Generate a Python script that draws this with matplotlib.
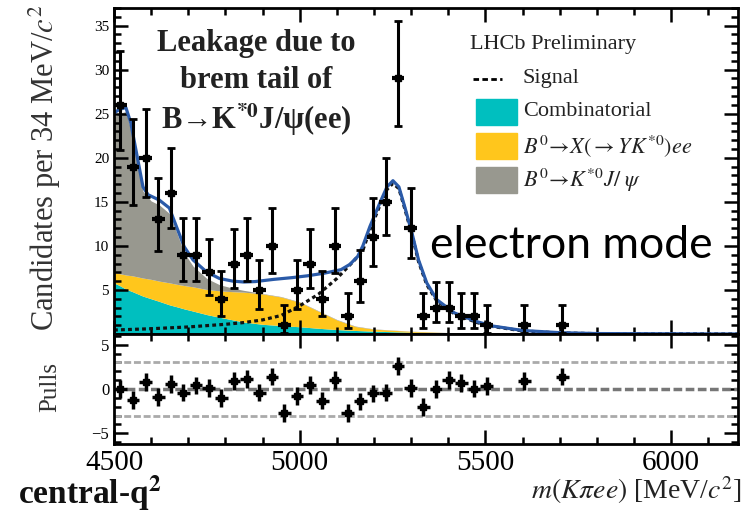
import matplotlib
matplotlib.use("Agg")
import matplotlib.pyplot as plt
from matplotlib.patches import Rectangle
from matplotlib.lines import Line2D
from matplotlib.ticker import MultipleLocator
import numpy as np

plt.rcParams['font.family'] = ['Liberation Serif', 'DejaVu Serif']
plt.rcParams['mathtext.fontset'] = 'stix'

# binned data (34 MeV bins), bin centres in MeV
bin_centres = [4517, 4551, 4585, 4619, 4653, 4687, 4721, 4755, 4789, 4823,
               4857, 4891, 4925, 4959, 4993, 5027, 5061, 5095, 5129, 5163,
               5197, 5231, 5265, 5299, 5333, 5367, 5401, 5435, 5469, 5503,
               5605, 5707]
counts = [26, 19, 20, 13, 16, 9, 9, 7, 4, 8,
          9, 5, 10, 1, 5, 8, 4, 10, 2, 6,
          11, 15, 29, 12, 2, 3, 3, 2, 2, 1,
          1, 1]
err_lo = [5.07, 4.33, 4.44, 3.55, 3.95, 2.94, 2.94, 2.58, 1.91, 2.77,
          2.94, 2.16, 3.11, 0.83, 2.16, 2.77, 1.91, 3.11, 1.29, 2.38,
          3.26, 3.82, 5.36, 3.41, 1.29, 1.63, 1.63, 1.29, 1.29, 0.83,
          0.83, 0.83]
err_hi = [6.17, 5.44, 5.55, 4.70, 5.08, 4.11, 4.11, 3.77, 3.16, 3.95,
          4.11, 3.38, 4.26, 2.30, 3.38, 3.95, 3.16, 4.26, 2.64, 3.58,
          4.42, 4.95, 6.47, 4.56, 2.64, 2.92, 2.92, 2.64, 2.64, 2.30,
          2.30, 2.30]
pulls = [0.0, -1.2, 0.8, -0.9, 0.55, -0.4, 0.4, 0.1, -1.0, 0.9,
         1.1, -0.4, 1.4, -2.7, -0.8, 0.45, -1.3, 1.0, -2.7, -1.4,
         -0.5, -0.4, 2.6, 0.15, -2.0, 0.0, 1.0, 0.7, 0.05, 0.3,
         0.9, 1.4]

# fit components
m_bkg = [4500, 4515, 4532, 4550, 4578, 4600, 4622, 4650, 4668, 4689, 4713,
         4750, 4784, 4820, 4850, 4900, 4950, 5000, 5050, 5100, 5150, 5200,
         5300, 5400, 5600, 6180]
comb = [5.8, 5.5, 5.1, 4.8, 4.3, 4.0, 3.7, 3.3, 3.1, 2.85, 2.6,
        2.2, 1.9, 1.6, 1.35, 1.1, 0.95, 0.82, 0.65, 0.5, 0.4, 0.32,
        0.2, 0.12, 0.05, 0.0]
partreco_top = [7.0, 6.85, 6.7, 6.6, 6.35, 6.2, 6.0, 5.8, 5.65, 5.5, 5.35,
                5.05, 4.9, 4.8, 4.75, 4.55, 4.2, 3.6, 2.6, 1.6, 0.85, 0.55,
                0.3, 0.15, 0.05, 0.0]
jpsi_top = [24.65, 25.05, 25.25, 22.4, 16.2, 15.1, 14.65, 13.65, 11.6, 9.2, 7.7,
            6.3, 5.6, 5.2, 4.95, 4.6, 4.25, 3.65, 2.65, 1.65, 0.9, 0.58,
            0.32, 0.17, 0.06, 0.0]

m_sig = [4500, 4600, 4700, 4800, 4850, 4900, 4950, 5000, 5050, 5100, 5150,
         5170, 5189, 5216, 5235, 5251, 5267, 5283, 5302, 5320, 5342, 5369,
         5416, 5477, 5520, 5600, 5700, 5800, 6180]
signal = [0.45, 0.6, 0.8, 1.1, 1.3, 1.6, 2.1, 3.2, 4.5, 6.3, 8.5,
          9.5, 11.8, 14.6, 16.4, 17.1, 16.5, 14.2, 11.3, 8.2, 5.6, 3.75,
          2.3, 1.3, 0.85, 0.35, 0.12, 0.04, 0.0]

m_tot = [4500, 4515, 4532, 4545, 4559, 4578, 4592, 4622, 4649, 4668, 4689,
         4713, 4749, 4784, 4820, 4850, 4880, 4930, 4980, 5020, 5066, 5111,
         5135, 5156, 5170, 5189, 5216, 5235, 5251, 5267, 5283, 5302, 5320,
         5342, 5369, 5416, 5477, 5520, 5600, 5700, 5800, 6180]
total = [25.1, 25.5, 25.7, 24.0, 20.9, 16.7, 15.8, 15.2, 14.3, 12.2, 9.9,
         8.4, 7.05, 6.3, 6.0, 5.9, 5.95, 6.2, 6.4, 6.6, 6.9, 7.3,
         7.9, 8.8, 10.0, 12.2, 14.9, 16.7, 17.4, 16.7, 14.4, 11.5, 8.4,
         5.8, 3.9, 2.4, 1.4, 0.9, 0.4, 0.15, 0.05, 0.0]

half_bin = 17
W, H = 753, 515

def fx(px):
    return px / W

def fy(py):
    return 1 - py / H

fig = plt.figure(figsize=(7.53, 5.15), dpi=100)
ax = fig.add_axes([fx(114), fy(334), fx(738) - fx(114), fy(8) - fy(334)])
axp = fig.add_axes([fx(114), fy(444), fx(738) - fx(114), fy(334) - fy(444)], sharex=ax)

cyan = '#00bfbf'
yellow = '#ffc61c'
grey = '#98988f'

ax.fill_between(m_bkg, 0, comb, color=cyan, lw=0)
ax.fill_between(m_bkg, comb, partreco_top, color=yellow, lw=0)
ax.fill_between(m_bkg, partreco_top, jpsi_top, color=grey, lw=0)
ax.plot(m_sig, signal, color='#111111', lw=2.3, ls=(0, (1.2, 1.0)))
ax.plot(m_tot, total, color='#2a5aa8', lw=2.3)

ax.errorbar(bin_centres, counts, yerr=[err_lo, err_hi], fmt='none',
            ecolor='black', elinewidth=2.2, capsize=3, capthick=2)
ax.errorbar(bin_centres, counts, xerr=half_bin, fmt='s', color='black',
            ms=5, elinewidth=3, capsize=0)

ax.set_xlim(4500, 6180)
ax.set_ylim(0, 37)

for a in (ax, axp):
    a.tick_params(which='both', direction='in', top=True, right=True, width=1.8)
    a.tick_params(which='major', length=10)
    a.tick_params(which='minor', length=5)
    for s in a.spines.values():
        s.set_linewidth(2)
    a.xaxis.set_major_locator(MultipleLocator(500))
    a.xaxis.set_minor_locator(MultipleLocator(100))

ax.yaxis.set_major_locator(MultipleLocator(5))
ax.yaxis.set_minor_locator(MultipleLocator(1))
ax.set_yticks([0, 5, 10, 15, 20, 25, 30, 35])
ax.set_yticklabels(['', '5', '10', '15', '20', '25', '30', '35'])
ax.tick_params(axis='y', labelsize=11)
ax.tick_params(axis='x', labelbottom=False)

# pulls panel
axp.axhline(3, color='#aaaaaa', lw=2, ls=(0, (2.5, 1)))
axp.axhline(-3, color='#aaaaaa', lw=2, ls=(0, (2.5, 1)))
axp.axhline(0, color='#777777', lw=2.5, ls=(0, (2.5, 1)))
axp.errorbar(bin_centres, pulls, yerr=1, xerr=half_bin, fmt='s', color='black',
             ms=4, elinewidth=2.5, capsize=0)
axp.set_ylim(-6.2, 6.2)
axp.set_yticks([-5, 0, 5])
axp.set_yticklabels(['\u22125', '0', '5'])
axp.yaxis.set_minor_locator(MultipleLocator(1))
axp.tick_params(axis='y', labelsize=12)
axp.tick_params(axis='x', labelsize=21, pad=4)
axp.set_xticks([4500, 5000, 5500, 6000])

fig.text(fx(45), fy(168), 'Candidates per 34 MeV/$c^2$', rotation=90,
         ha='center', va='center', fontsize=22, color='#333333')
fig.text(fx(50), fy(387), 'Pulls', rotation=90, ha='center', va='center',
         fontsize=18, color='#333333')
fig.text(fx(742), fy(490), '$m(K\\pi ee)$ [MeV/$c^2$]', ha='right', va='center',
         fontsize=20, color='#222222')
fig.text(fx(18), fy(493), 'central-q$^{\\mathbf{2}}$', ha='left', va='center',
         fontsize=24, fontweight='bold', color='#111111')

# annotation
for txt, yc in [('Leakage due to', 43), ('brem tail of', 81),
                ('B\u2192K$^{\\mathbf{*0}}$J/\u03c8(ee)', 120)]:
    fig.text(fx(256), fy(yc), txt, ha='center', va='center',
             fontsize=22, fontweight='bold', color='#222222')

# legend
fig.text(fx(470), fy(44), 'LHCb Preliminary', ha='left', va='center',
         fontsize=16, color='#222222')
fig.lines.append(Line2D([fx(473), fx(502)], [fy(79), fy(79)], color='black',
                        lw=2, ls=(0, (2, 1.2)), transform=fig.transFigure))
fig.text(fx(522), fy(78), 'Signal', ha='left', va='center', fontsize=16,
         color='#222222')
leg_items = [(cyan, 'Combinatorial', 112),
             (yellow, '$B^0\\!\\rightarrow\\! X(\\rightarrow YK^{*0})ee$', 146),
             (grey, '$B^0\\!\\rightarrow\\! K^{*0}J/\\;\\psi$', 180)]
for col, lab, yc in leg_items:
    fig.patches.append(Rectangle((fx(476), fy(yc + 13)), fx(41), 26 / H,
                                 color=col, transform=fig.transFigure))
    fig.text(fx(523), fy(yc), lab, ha='left', va='center', fontsize=16,
             color='#222222')

fig.text(fx(430), fy(245), 'electron mode', ha='left', va='center',
         fontsize=32, family='Lato', color='black')

fig.savefig('out.png', dpi=100)
